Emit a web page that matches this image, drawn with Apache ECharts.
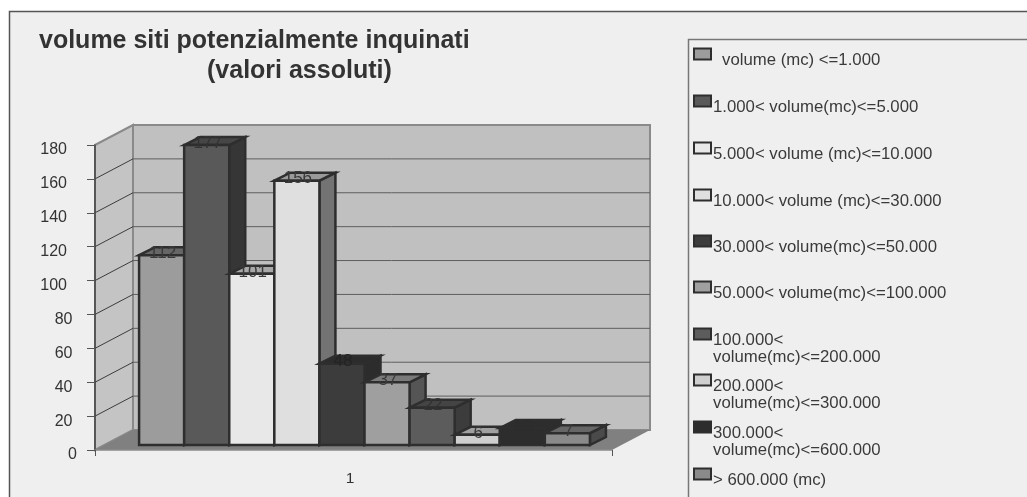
<!DOCTYPE html>
<html>
<head>
<meta charset="utf-8">
<style>html,body{margin:0;padding:0;background:#fff}#c{width:1027px;height:497px}</style>
<script src="https://cdn.jsdelivr.net/npm/echarts@6/dist/echarts.min.js"></script>
</head>
<body>
<div id="c"></div>
<script>
const categories = ['1'];
const seriesNames = [
  'volume (mc) <=1.000',
  '1.000< volume(mc)<=5.000',
  '5.000< volume (mc)<=10.000',
  '10.000< volume (mc)<=30.000',
  '30.000< volume(mc)<=50.000',
  '50.000< volume(mc)<=100.000',
  '100.000<\nvolume(mc)<=200.000',
  '200.000<\nvolume(mc)<=300.000',
  '300.000<\nvolume(mc)<=600.000',
  '> 600.000 (mc)'
];
const seriesValues = [112, 177, 101, 156, 48, 37, 22, 6, 10, 7];
const yTicks = [0, 20, 40, 60, 80, 100, 120, 140, 160, 180];
const titleLines = ['volume siti potenzialmente inquinati', '(valori assoluti)'];

const frontColors = ['#9c9c9c','#595959','#e8e8e8','#dfdfdf','#3c3c3c','#9f9f9f','#5c5c5c','#cfcfcf','#2d2d2d','#8a8a8a'];
const topColors   = ['#666666','#464646','#a8a8a8','#9a9a9a','#2c2c2c','#7a7a7a','#444444','#a0a0a0','#2d2d2d','#666666'];
const sideColors  = ['#4e4e4e','#363636','#737373','#737373','#2c2c2c','#555555','#3c3c3c','#666666','#2d2d2d','#4a4a4a'];
const labelColors = ['#3a3a3a','#333333','#3a3a3a','#3a3a3a','#242424','#3a3a3a','#333333','#3a3a3a','#2d2d2d','#3a3a3a'];

const ink = '#2e2e2e';
const fontFamily = '"Liberation Sans", Arial, sans-serif';
const wall = {dx: 38, dy: -20};
const barShift = {dx: 11, dy: -5};
const barDepth = {dx: 16, dy: -8};
const barFraction = 0.0872;

function poly(pts, fill, stroke, lw) {
  return {type: 'polygon', shape: {points: pts},
    style: {fill: fill, stroke: stroke || null, lineWidth: lw || 0, lineJoin: 'miter'}};
}

const barSeries = seriesNames.map((name, i) => ({
  name: name,
  type: 'custom',
  z: 3,
  clip: false,
  silent: true,
  itemStyle: {color: frontColors[i]},
  data: [[0, seriesValues[i]]],
  encode: {x: 0, y: 1},
  renderItem: function (params, api) {
    const band = api.size([1, 0])[0];
    const base = api.coord([api.value(0), 0]);
    const top = api.coord([api.value(0), api.value(1)]);
    const w = band * barFraction;
    const x0 = base[0] - w * seriesNames.length / 2 + i * w + barShift.dx;
    const x1 = x0 + w;
    const yb = base[1] + barShift.dy;
    const yt = top[1] + barShift.dy;
    const d = barDepth;
    return {type: 'group', children: [
      poly([[x1, yt], [x1 + d.dx, yt + d.dy], [x1 + d.dx, yb + d.dy], [x1, yb]], sideColors[i], ink, 2.5),
      poly([[x0, yt], [x0 + d.dx, yt + d.dy], [x1 + d.dx, yt + d.dy], [x1, yt]], topColors[i], ink, 2.5),
      {type: 'rect', shape: {x: x0, y: yt, width: w, height: yb - yt},
        style: {fill: frontColors[i], stroke: ink, lineWidth: 2.5}},
      {type: 'text', z2: 20, style: {
        text: String(seriesValues[i]), x: (x0 + x1) / 2 + 1, y: yt - 2,
        align: 'center', verticalAlign: 'middle',
        font: '17px ' + fontFamily, fill: labelColors[i]}}
    ]};
  }
}));

const wallSeries = {
  name: 'walls', type: 'custom', z: 1, clip: false, silent: true,
  data: [[0, 0]],
  encode: {x: 0, y: 1},
  renderItem: function (params, api) {
    const band = api.size([1, 0])[0];
    const b = api.coord([0, yTicks[0]]);
    const t = api.coord([0, yTicks[yTicks.length - 1]]);
    const xl = b[0] - band / 2, xr = b[0] + band / 2;
    const d = wall;
    const line = '#8a8a8a';
    return {type: 'group', children: [
      poly([[xl + d.dx, t[1] + d.dy], [xr + d.dx, t[1] + d.dy], [xr + d.dx, b[1] + d.dy], [xl + d.dx, b[1] + d.dy]], '#c0c0c0', line, 2),
      poly([[xl, t[1]], [xl + d.dx, t[1] + d.dy], [xl + d.dx, b[1] + d.dy], [xl, b[1]]], '#c4c4c4', line, 2),
      poly([[xl, b[1]], [xl + d.dx, b[1] + d.dy], [xr + d.dx, b[1] + d.dy], [xr, b[1]]], '#808080', null, 0)
    ]};
  }
};

const gridSeries = {
  name: 'gridlines', type: 'custom', z: 2, clip: false, silent: true,
  data: yTicks.slice(1, -1).map(v => [0, v]),
  encode: {x: 0, y: 1},
  renderItem: function (params, api) {
    const band = api.size([1, 0])[0];
    const p = api.coord([0, api.value(1)]);
    const xl = p[0] - band / 2, xr = p[0] + band / 2;
    const d = wall;
    return {type: 'group', children: [
      {type: 'line', shape: {x1: xl, y1: p[1], x2: xl + d.dx, y2: p[1] + d.dy},
        style: {stroke: '#3c3c3c', lineWidth: 1}},
      {type: 'line', shape: {x1: xl + d.dx, y1: p[1] + d.dy, x2: xr + d.dx, y2: p[1] + d.dy},
        style: {stroke: '#5e5e5e', lineWidth: 1}}
    ]};
  }
};

// legend swatch sits at the top of the item box so the label falls below its centre
function swatchIcon(h) { return 'path://M0,0 H17 V11 H0 Z M0,' + h + ' L0,' + h; }
const legendTops = [47.5, 94.5, 141.5, 188.5, 234.5, 280.5, 327.5, 373.5, 420.5, 467.5];
const legends = seriesNames.map((name, i) => {
  const two = name.indexOf('\n') >= 0;
  const h = two ? 40 : 23;
  return {
    data: [name],
    left: 693,
    top: legendTops[i],
    padding: 0,
    itemWidth: 17,
    itemHeight: h,
    itemGap: 0,
    icon: swatchIcon(h),
    selectedMode: false,
    itemStyle: {color: frontColors[i], borderColor: ink, borderWidth: 2},
    textStyle: {
      color: '#3a3a3a', fontSize: 16.75, lineHeight: 17, fontFamily: fontFamily,
      padding: i === 0 ? [0, 0, 0, 6] : [0, 0, 0, -3]
    }
  };
});

const chart = echarts.init(document.getElementById('c'), null, {renderer: 'canvas'});
chart.setOption({
  animation: false,
  backgroundColor: '#ffffff',
  title: [
    {text: titleLines[0], left: 39, top: 29, padding: 0,
      textStyle: {fontSize: 25, fontWeight: 'bold', color: '#333', fontFamily: fontFamily}},
    {text: titleLines[1], left: 207, top: 59, padding: 0,
      textStyle: {fontSize: 25, fontWeight: 'bold', color: '#333', fontFamily: fontFamily}}
  ],
  graphic: [
    {type: 'rect', z: -100, shape: {x: 9.5, y: 11.5, width: 1040, height: 500},
      style: {fill: '#efefef', stroke: '#555', lineWidth: 1.5}},
    {type: 'rect', z: -99, shape: {x: 688.5, y: 39.5, width: 360, height: 480},
      style: {fill: '#efefef', stroke: '#777', lineWidth: 1.5}}
  ],
  legend: legends,
  grid: {left: 95, top: 145, width: 517, height: 305, containLabel: false},
  xAxis: {
    type: 'category', data: categories,
    axisLine: {show: true, lineStyle: {color: '#8a8a8a', width: 1.5}},
    axisTick: {show: true, length: 6, lineStyle: {color: '#555'}},
    axisLabel: {color: '#333', fontSize: 15.5, margin: 21, padding: [0, 7, 0, 0], fontFamily: fontFamily},
    z: 5
  },
  yAxis: {
    type: 'value', min: 0, max: 180, interval: 20,
    axisLine: {show: true, lineStyle: {color: '#444', width: 1.5}},
    axisTick: {show: true, length: 8, lineStyle: {color: '#555'}},
    axisLabel: {
      fontSize: 16, margin: 18, color: '#333', fontFamily: fontFamily,
      formatter: v => v >= 100 ? '{h|' + v + '}' : v >= 10 ? '{t|' + v + '}' : '{u|' + v + '}',
      rich: {
        h: {fontSize: 16, color: '#333', fontFamily: fontFamily, padding: [10, 10, 0, 0]},
        t: {fontSize: 16, color: '#333', fontFamily: fontFamily, padding: [10, 4.5, 0, 0]},
        u: {fontSize: 16, color: '#333', fontFamily: fontFamily, padding: [10, 0, 0, 0]}
      }
    },
    splitLine: {show: false},
    z: 5
  },
  series: [wallSeries, gridSeries].concat(barSeries)
});
</script>
</body>
</html>
